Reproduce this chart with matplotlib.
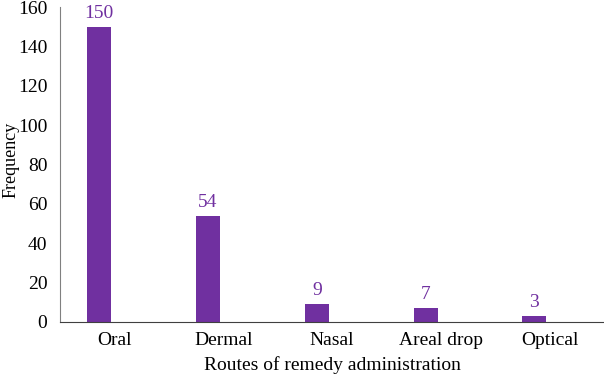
import matplotlib.pyplot as plt
import numpy as np

# Routes of remedy administration and their counts
routes = ["Oral", "Dermal", "Nasal", "Areal drop", "Optical"]
freq = [150, 54, 9, 7, 3]

plt.rcParams['font.family'] = ['Liberation Serif', 'DejaVu Serif']
purple = "#7030A0"

fig = plt.figure(figsize=(6.04, 3.77), dpi=100)
ax = fig.add_axes([60 / 604, 55 / 377, 544 / 604, 315 / 377])

x = np.arange(len(routes))
bars = ax.bar(x - 0.14, freq, width=0.22, color=purple)
for xi, v in zip(x, freq):
    ax.text(xi - 0.14, v + 2.5, str(v), ha="center", va="bottom",
            color=purple, fontsize=14)

ax.set_xlim(-0.5, len(routes) - 0.5)
ax.set_ylim(0, 160)
ax.set_yticks(range(0, 161, 20))
ax.set_xticks(x)
ax.set_xticklabels(routes)
ax.tick_params(length=0, labelsize=14)
ax.tick_params(axis="x", pad=7)
ax.tick_params(axis="y", pad=9)

for s in ["top", "right"]:
    ax.spines[s].set_visible(False)
ax.spines["left"].set_color("#808080")
ax.spines["bottom"].set_color("#404040")

ax.set_xlabel("Routes of remedy administration", fontsize=14, labelpad=5)
# y label placed by hand so it stays inside the figure
fig.text(11 / 604, 1 - 160 / 377, "Frequency", rotation=90,
         ha="center", va="center", fontsize=13)

fig.savefig("out.png", dpi=100)
